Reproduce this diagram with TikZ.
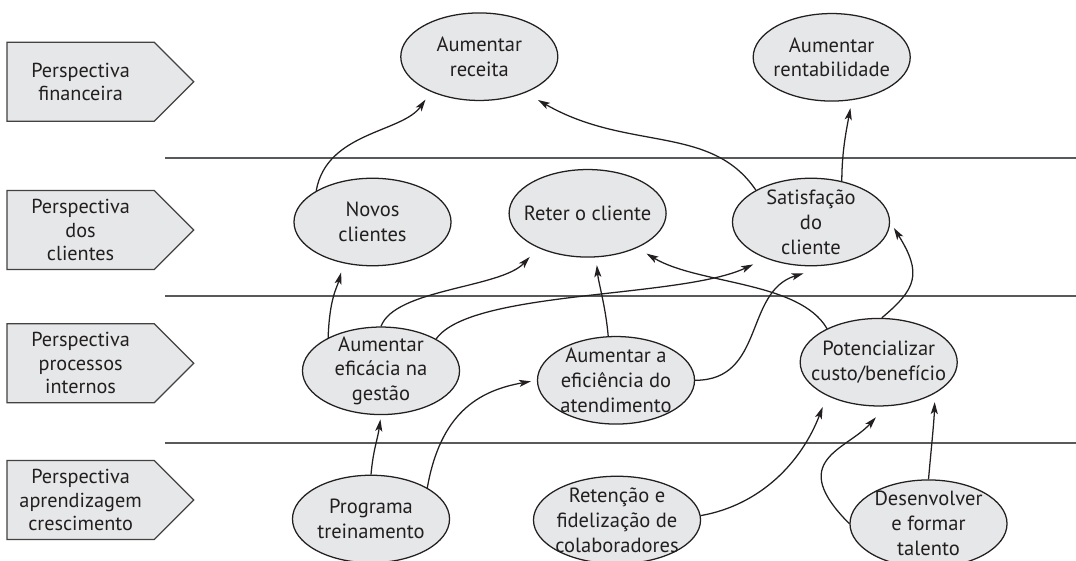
\documentclass[tikz,border=0pt]{standalone}
\usepackage{fontspec}
\setmainfont{PT Sans}
\usetikzlibrary{shapes.geometric,shapes.symbols,arrows.meta}
\definecolor{boxgray}{HTML}{E6E7E8}
\definecolor{ink}{HTML}{231F20}
\definecolor{rulegray}{HTML}{58595B}

\begin{document}
\begin{tikzpicture}[x=0.025cm,y=0.025cm,font=\fontsize{14.6pt}{17.7pt}\selectfont,text=ink,
        goal/.style = {draw=ink, ellipse, fill=boxgray, line width=0.9pt, minimum width=3.925cm, minimum height=2.1875cm, inner sep=0pt},
        goaltext/.style = {align=center, inner sep=0pt},
        persp/.style = {draw=ink!85, fill=boxgray, signal, signal to=east, line width=0.9pt, minimum width=4.67cm, minimum height=1.975cm, align=center, font=\fontsize{14.4pt}{16.7pt}\selectfont},
        link/.style = {-{Stealth[length=8.5pt,width=5pt,inset=2pt]}, line width=0.9pt, draw=ink},
        divider/.style = {draw=rulegray, line width=1.2pt}]
    \useasboundingbox (0,0) rectangle (1076,560);

    \node[persp] (fin) at (80.6,478.3) {Perspectiva\\financeira};
    \node[persp] (cli) at (80.6,330) {Perspectiva\\dos\\clientes};
    \node[persp] (proc) at (80.6,196.7) {Perspectiva\\processos\\internos};
    \node[persp] (apr) at (80.6,60) {Perspectiva\\aprendizagem\\crescimento};

    \draw[divider] (165.3,401.7) -- (1076,401.7);
    \draw[divider] (165.3,264.3) -- (1076,264.3);
    \draw[divider] (165.3,116.7) -- (1076,116.7);

    \node[goal, label={[goaltext]center:Aumentar\\receita}] (receita) at (479.3,503.3) {};
    \node[goal, label={[goaltext]center:Aumentar\\rentabilidade}] (rentab) at (831.7,502.7) {};
    \node[goal, label={[goaltext]center:Novos\\clientes}] (novos) at (372.5,338) {};
    \node[goal, label={[goaltext]center:Reter o cliente}] (reter) at (587.6,346.7) {};
    \node[goal, label={[goaltext]center:Satisfação\\do\\cliente}] (satisf) at (811,338) {};
    \node[goal, label={[goaltext]center:Aumentar\\eficácia na\\gestão}] (eficacia) at (381,189.2) {};
    \node[goal, label={[goaltext]center:Aumentar a\\eficiência do\\atendimento}] (eficiencia) at (616,179.7) {};
    \node[goal, label={[goaltext]center:Potencializar\\custo/benefício}] (potenc) at (878.7,197.8) {};
    \node[goal, label={[goaltext]center:Programa\\treinamento}] (programa) at (371,41) {};
    \node[goal, minimum width=4.175cm, label={[goaltext]center:Retenção e\\fidelização de\\colaboradores}] (retencao) at (617,40) {};
    \node[goal, label={[goaltext]center:Desenvolver\\e formar\\talento}] (desenv) at (928.5,36.3) {};

    \draw[link, shorten >=6.7pt] (novos.151) .. controls +(80:60) and +(235:50) .. (receita.216);
    \draw[link, shorten >=10.3pt] (satisf.150) .. controls +(124:80) and +(330:118) .. (receita.322.5);
    \draw[link, shorten >=5.6pt] (satisf.53) .. controls +(90:30) and +(260:30) .. (rentab.295.3);
    \draw[link, shorten >=6.7pt] (eficacia.148) .. controls +(88:40) and +(255:25) .. (novos.235.8);
    \draw[link, shorten >=8.7pt] (eficacia.north) .. controls +(70:40) and +(227:55) .. (reter.215.9);
    \draw[link, shorten >=10pt] (eficacia.30) .. controls +(55:60) and +(205:95) .. (satisf.219.9);
    \draw[link, shorten >=5.5pt] (eficiencia.100) .. controls +(95:30) and +(275:25) .. (reter.281.4);
    \draw[link, shorten >=20.4pt] (eficiencia.east) .. controls +(0:70) and +(197:91) .. (satisf.295);
    \draw[link, shorten >=7.8pt] (potenc.147) .. controls +(120:55) and +(329:71) .. (reter.325.6);
    \draw[link, shorten >=5pt] (potenc.86) .. controls +(40:45) and +(302:61) .. (satisf.east);
    \draw[link, shorten >=3pt] (programa.north) .. controls +(85:25) and +(262:25) .. (eficacia.south);
    \draw[link, shorten >=4.2pt] (programa.29) .. controls +(80:75) and +(190:60) .. (eficiencia.west);
    \draw[link, shorten >=8.5pt] (retencao.3) .. controls +(10:60) and +(249:72) .. (potenc.213.6);
    \draw[link, shorten >=10.4pt] (desenv.west) .. controls +(135:90) and +(228:59) .. (potenc.279.5);
    \draw[link, shorten >=6.2pt] (desenv.north) .. controls +(85:30) and +(268:30) .. (potenc.331.5);
\end{tikzpicture}
\end{document}
